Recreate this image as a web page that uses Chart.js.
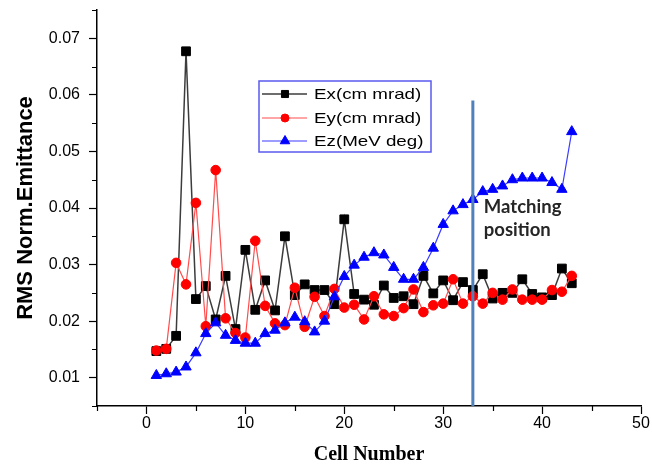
<!DOCTYPE html>
<html>
<head>
<meta charset="utf-8">
<title>RMS Norm. Emittance</title>
<script src="https://cdn.jsdelivr.net/npm/chart.js@4.4.0/dist/chart.umd.min.js"></script>
<style>
  html, body { margin: 0; padding: 0; background: #fff; }
  #wrap { width: 652px; height: 468px; }
</style>
</head>
<body>
<div id="wrap"><canvas id="emitChart" width="652" height="468"></canvas></div>
<script>
// cell numbers
const cells = [1, 2, 3, 4, 5, 6, 7, 8, 9, 10, 11, 12, 13, 14, 15, 16, 17, 18, 19, 20, 21, 22,
               23, 24, 25, 26, 27, 28, 29, 30, 31, 32, 33, 34, 35, 36, 37, 38, 39, 40, 41, 42, 43];

// RMS normalised emittance per cell
const ex = [0.0147, 0.0151, 0.0174, 0.0677, 0.0239, 0.0262, 0.0203, 0.0280, 0.0186, 0.0326,
            0.0220, 0.0272, 0.0219, 0.0350, 0.0246, 0.0265, 0.0255, 0.0255, 0.0230, 0.0380,
            0.0248, 0.0238, 0.0229, 0.0263, 0.0241, 0.0244, 0.0230, 0.0280, 0.0249, 0.0272,
            0.0237, 0.0269, 0.0255, 0.0283, 0.0240, 0.0250, 0.0250, 0.0274, 0.0248, 0.0242,
            0.0246, 0.0293, 0.0267];
const ey = [0.0148, 0.0151, 0.0303, 0.0265, 0.0409, 0.0191, 0.0467, 0.0205, 0.0179, 0.0171,
            0.0342, 0.0227, 0.0196, 0.0193, 0.0259, 0.0190, 0.0243, 0.0209, 0.0257, 0.0224,
            0.0229, 0.0203, 0.0244, 0.0212, 0.0209, 0.0223, 0.0256, 0.0216, 0.0228, 0.0231,
            0.0274, 0.0231, 0.0244, 0.0231, 0.0250, 0.0238, 0.0256, 0.0238, 0.0238, 0.0238,
            0.0255, 0.0252, 0.0280];
const ez = [0.0104, 0.0107, 0.0110, 0.0119, 0.0144, 0.0178, 0.0197, 0.0175, 0.0166, 0.0161,
            0.0161, 0.0178, 0.0184, 0.0197, 0.0207, 0.0199, 0.0181, 0.0200, 0.0243, 0.0279,
            0.0299, 0.0313, 0.0321, 0.0317, 0.0295, 0.0274, 0.0274, 0.0295, 0.0329, 0.0371,
            0.0395, 0.0406, 0.0415, 0.0429, 0.0433, 0.0439, 0.0450, 0.0453, 0.0453, 0.0453,
            0.0445, 0.0433, 0.0535];

const seriesNames = ['Ex(cm mrad)', 'Ey(cm mrad)', 'Ez(MeV deg)'];

// matching position marker
const matchingCell = 33;
const matchingRange = [0.005, 0.059];
const matchingText = ['Matching', 'position'];

// axes
const xRange = [-5, 50];
const yRange = [0.005, 0.075];

const sansFont = '"Liberation Sans", Arial, sans-serif';

function toPoints(values) {
    return cells.map(function(c, i) { return { x: c, y: values[i] }; });
}

function isMajorX(v) { return Math.abs(v % 10) < 1e-9; }
function isMajorY(v) { return Math.abs(Math.round(v * 1000) % 10) === 0; }

// minor ticks, matching label and the boxed legend
const overlay = {
    id: 'overlay',
    afterDraw: function(chart) {
        const ctx = chart.ctx;
        const xs = chart.scales.x;
        const ys = chart.scales.y;
        ctx.save();

        ctx.strokeStyle = '#000';
        ctx.lineWidth = 1.2;
        ctx.beginPath();
        xs.ticks.forEach(function(t) {
            if (isMajorX(t.value)) return;
            const px = Math.round(xs.getPixelForValue(t.value)) + 0.5;
            ctx.moveTo(px, xs.top);
            ctx.lineTo(px, xs.top + 5);
        });
        ys.ticks.forEach(function(t) {
            if (isMajorY(t.value)) return;
            const py = Math.round(ys.getPixelForValue(t.value)) + 0.5;
            ctx.moveTo(ys.right, py);
            ctx.lineTo(ys.right - 5, py);
        });
        ctx.stroke();

        // matching position text
        ctx.fillStyle = '#262626';
        ctx.font = 'bold 18.5px Lato, "Open Sans", sans-serif';
        ctx.textAlign = 'left';
        ctx.textBaseline = 'alphabetic';
        const tx = xs.getPixelForValue(matchingCell) + 11;
        const ty = ys.getPixelForValue(0.0392);
        ctx.fillText(matchingText[0], tx, ty);
        ctx.fillText(matchingText[1], tx, ty + 23);

        // legend box
        const box = { left: 259, top: 81, right: 431, bottom: 152 };
        ctx.fillStyle = '#fff';
        ctx.fillRect(box.left, box.top, box.right - box.left, box.bottom - box.top);
        ctx.strokeStyle = '#5a5af0';
        ctx.lineWidth = 1.5;
        ctx.strokeRect(box.left, box.top, box.right - box.left, box.bottom - box.top);

        const rows = [94, 118, 141];
        const markers = [
            { pointStyle: 'rect', radius: 5, borderWidth: 1 },
            { pointStyle: 'circle', radius: 4, borderWidth: 1 },
            { pointStyle: 'triangle', radius: 5.5, borderWidth: 1 }
        ];
        chart.data.datasets.slice(0, 3).forEach(function(ds, i) {
            const y = rows[i];
            ctx.strokeStyle = ds.borderColor;
            ctx.lineWidth = ds.borderWidth;
            ctx.beginPath();
            ctx.moveTo(262, y);
            ctx.lineTo(307, y);
            ctx.stroke();
            ctx.fillStyle = ds.pointBackgroundColor;
            ctx.strokeStyle = ds.pointBorderColor;
            ctx.lineWidth = 1;
            Chart.helpers.drawPoint(ctx, markers[i], 285, y);

            ctx.save();
            ctx.fillStyle = '#000';
            ctx.font = '15px ' + sansFont;
            ctx.textBaseline = 'alphabetic';
            ctx.translate(314, y + 5);
            ctx.scale(1.25, 1);
            ctx.fillText(ds.label, 0, 0);
            ctx.restore();
        });

        ctx.restore();
    }
};

const ctx = document.getElementById('emitChart').getContext('2d');
const emitChart = new Chart(ctx, {
    type: 'line',
    data: {
        datasets: [{
            label: seriesNames[0],
            data: toPoints(ex),
            borderColor: '#3c3c3c',
            borderWidth: 1.5,
            pointStyle: 'rect',
            pointRadius: 6.2,
            pointBackgroundColor: '#000',
            pointBorderColor: '#000',
            pointBorderWidth: 1,
            order: 3
        }, {
            label: seriesNames[1],
            data: toPoints(ey),
            borderColor: '#ff4d4d',
            borderWidth: 1.2,
            pointStyle: 'circle',
            pointRadius: 4.8,
            pointBackgroundColor: '#ff0000',
            pointBorderColor: '#ff0000',
            pointBorderWidth: 1,
            order: 2
        }, {
            label: seriesNames[2],
            data: toPoints(ez),
            borderColor: '#3c3cff',
            borderWidth: 1.2,
            pointStyle: 'triangle',
            pointRadius: 6,
            pointBackgroundColor: '#0000ff',
            pointBorderColor: '#0000ff',
            pointBorderWidth: 1,
            order: 1
        }, {
            label: 'matching',
            data: matchingRange.map(function(v) { return { x: matchingCell, y: v }; }),
            borderColor: '#4f81bd',
            borderWidth: 3,
            pointRadius: 0,
            order: 0
        }]
    },
    options: {
        responsive: false,
        animation: false,
        devicePixelRatio: 1,
        layout: { padding: { top: 10, right: 11, left: 0, bottom: 0 } },
        plugins: {
            legend: { display: false },
            tooltip: { enabled: false }
        },
        scales: {
            x: {
                type: 'linear',
                min: xRange[0],
                max: xRange[1],
                afterFit: function(scale) { scale.height = 62; },
                border: { display: true, color: '#000', width: 1.5 },
                grid: {
                    drawOnChartArea: false,
                    tickLength: 8,
                    tickWidth: 1.2,
                    tickColor: function(c) { return isMajorX(c.tick.value) ? '#000' : 'rgba(0,0,0,0)'; }
                },
                ticks: {
                    stepSize: 5,
                    autoSkip: false,
                    maxRotation: 0,
                    padding: 0,
                    color: '#000',
                    font: { family: sansFont, size: 16 },
                    callback: function(v) { return isMajorX(v) ? String(v) : ''; }
                },
                title: {
                    display: true,
                    text: 'Cell Number',
                    color: '#000',
                    padding: { top: 0, bottom: 1 },
                    font: { family: '"Liberation Serif", "Times New Roman", serif', size: 20, weight: 'bold' }
                }
            },
            y: {
                type: 'linear',
                min: yRange[0],
                max: yRange[1],
                afterFit: function(scale) {
                    scale.width = 97;
                    scale.paddingTop = 0;
                    scale.paddingBottom = 0;
                },
                border: { display: true, color: '#000', width: 1.5 },
                grid: {
                    drawOnChartArea: false,
                    tickLength: 8,
                    tickWidth: 1.2,
                    tickColor: function(c) { return isMajorY(c.tick.value) ? '#000' : 'rgba(0,0,0,0)'; }
                },
                ticks: {
                    stepSize: 0.005,
                    autoSkip: false,
                    padding: 9,
                    color: '#000',
                    font: { family: sansFont, size: 16 },
                    callback: function(v) { return isMajorY(v) ? v.toFixed(2) : ''; }
                },
                title: {
                    display: true,
                    text: 'RMS Norm.Emittance',
                    color: '#000',
                    padding: { top: 13, bottom: 0 },
                    font: { family: sansFont, size: 22, weight: 'bold' }
                }
            }
        }
    },
    plugins: [overlay]
});
</script>
</body>
</html>
